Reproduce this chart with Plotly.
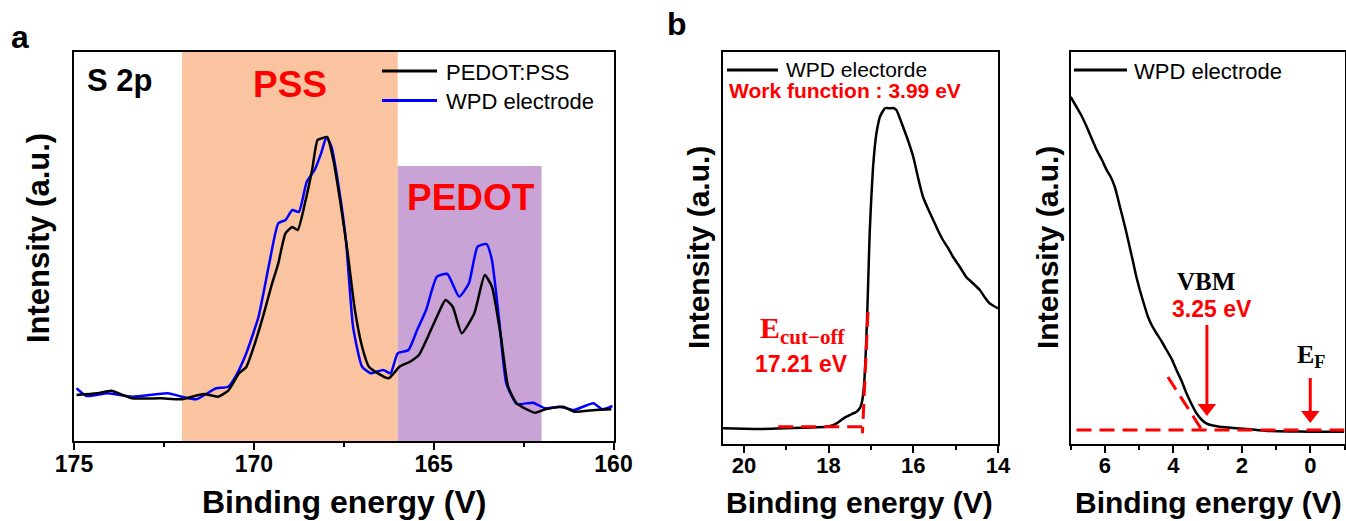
import plotly.graph_objects as go

W, H = 1346, 521

# ---------------- data ----------------
# Panel a : S 2p XPS
be_pedotpss = [174.93, 174.37, 173.97, 173.38, 172.59, 172.0, 171.40, 171.0, 170.71, 170.41,
               170.21, 169.97, 169.72, 169.52, 169.32, 169.12, 168.93, 168.78, 168.58, 168.38,
               168.23, 168.11, 167.96, 167.79, 167.59, 167.39, 167.19, 166.99, 166.80, 166.55,
               166.25, 165.95, 165.66, 165.41, 165.16, 164.91, 164.67, 164.47, 164.22, 163.87,
               163.58, 163.38, 163.13, 162.93, 162.69, 162.19, 161.90, 161.40, 161.10, 160.51,
               160.06]
int_pedotpss = [45, 46.7, 49.3, 41.7, 41.7, 40.7, 46, 43.3, 49.3, 66.7,
                73, 96.7, 126.7, 153, 176.7, 206.7, 213, 210, 236.7, 270,
                300, 301.7, 303, 280, 236.7, 186.7, 130, 93.3, 73.3, 66.7,
                61.7, 73.3, 78.3, 85, 103.3, 123.3, 140, 133.3, 106.7, 126.7,
                165, 153.3, 103.3, 53.3, 36.7, 27.3, 30.7, 33.3, 28.3, 30,
                30.7]

be_wpd_xps = [174.93, 174.65, 174.06, 173.38, 172.39, 172.0, 171.6, 171.05, 170.71, 170.51,
              170.21, 169.87, 169.57, 169.32, 169.12, 168.93, 168.75, 168.53, 168.31, 168.13,
              167.98, 167.84, 167.64, 167.44, 167.24, 166.99, 166.75, 166.40, 166.2, 166.0,
              165.7, 165.46, 165.21, 164.91, 164.62, 164.29, 164.02, 163.78, 163.53, 163.38,
              163.18, 162.98, 162.69, 162.24, 161.90, 161.5, 161.1, 160.56, 160.31, 160.03]
int_wpd_xps = [51.7, 44, 46.7, 43.3, 46.7, 43.3, 40.7, 51.7, 53.3, 63.3,
               86.7, 123.3, 176.7, 216.7, 220, 230, 228, 258, 270, 286.7,
               303, 293, 253, 200, 113, 73.3, 66.7, 70, 66.7, 86.7,
               90, 110, 130, 163.3, 166, 143.3, 156.7, 193.3, 196, 180,
               120, 56.7, 36, 37.3, 31.7, 33.3, 30, 36.7, 30.7, 34]

pss_region = [172.0, 166.0]
pedot_region = [166.0, 162.0]
pedot_region_top = 274

# Panel b (left) : UPS secondary cut-off
be_cutoff = [20.49, 20.0, 19.62, 19.2, 18.84, 18.4, 18.05, 17.92, 17.81, 17.7,
             17.58, 17.45, 17.34, 17.26, 17.22, 17.18, 17.15, 17.12, 17.09, 17.06,
             17.03, 16.99, 16.95, 16.91, 16.87, 16.83, 16.79, 16.73, 16.67, 16.62,
             16.56, 16.48, 16.40, 16.32, 16.24, 16.12, 16.0, 15.88, 15.77, 15.65,
             15.53, 15.41, 15.30, 15.18, 15.06, 14.9, 14.75, 14.6, 14.43, 14.3,
             14.2, 14.1, 14.0]
int_cutoff = [16.7, 16.2, 16, 16.5, 17, 17.5, 18.3, 19.5, 21.7, 25,
              28.3, 31, 33.3, 37, 41.7, 52, 68.3, 95, 128, 170,
              211.7, 248, 278, 298, 311.7, 321, 328, 333, 336.7, 337,
              336.7, 337, 335, 327, 318, 304, 288, 266, 248, 236,
              225, 214, 205, 197, 188, 178, 168, 162, 155, 147,
              141.7, 139, 136.7]
cutoff_base_x = [19.19, 17.03]
cutoff_base_y = [18.3, 18.3]
cutoff_edge_x = [17.07, 17.20]
cutoff_edge_y = [133, 11.7]

# Panel b (right) : UPS valence band
be_vb = [7.0, 6.83, 6.68, 6.53, 6.38, 6.24, 6.1, 5.95, 5.83, 5.71,
         5.64, 5.56, 5.47, 5.37, 5.27, 5.17, 5.08, 4.98, 4.86, 4.74,
         4.62, 4.50, 4.35, 4.20, 4.05, 3.91, 3.76, 3.62, 3.47, 3.33,
         3.18, 3.04, 2.85, 2.65, 2.25, 1.87, 1.5, 1.19, 0.6, 0.03,
         -0.5, -0.99]
int_vb = [348, 338, 329, 318, 306, 295, 286, 275, 268, 258,
          249, 238, 226, 212, 197, 182, 168, 155, 141, 128,
          119, 112, 104, 95, 86, 75, 64, 52, 41, 32,
          25.5, 21.7, 19.5, 18.3, 17, 16, 14.8, 14, 13.5, 13.3,
          13.3, 13.3]
vb_base_x = [6.83, -1.0]
vb_base_y = [15, 15]
vb_edge_x = [4.16, 3.09]
vb_edge_y = [68, 11]
vbm_arrow_x = [3.02, 3.02]
vbm_arrow_y = [120, 37]
ef_arrow_x = [0.0, 0.0]
ef_arrow_y = [67, 30]

# ---------------- helpers ----------------
def PX(x):
    return x / W

def PY(y):
    return 1 - y / H

SANS = "Liberation Sans, Arial, sans-serif"
SERIF = "Liberation Serif, Times New Roman, serif"
RED = "#FF0000"

fig = go.Figure()

# Panel a traces
fig.add_trace(go.Scatter(x=be_wpd_xps, y=int_wpd_xps, mode="lines", name="WPD electrode",
                         line=dict(color="#0000FF", width=2.5, shape="spline", smoothing=0.5),
                         xaxis="x", yaxis="y", showlegend=False))
fig.add_trace(go.Scatter(x=be_pedotpss, y=int_pedotpss, mode="lines", name="PEDOT:PSS",
                         line=dict(color="black", width=2.5, shape="spline", smoothing=0.5),
                         xaxis="x", yaxis="y", showlegend=False))

DASH = dict(color=RED, width=3, dash="15px,8px")

# Panel b left
fig.add_trace(go.Scatter(x=be_cutoff, y=int_cutoff, mode="lines", name="WPD electorde",
                         line=dict(color="black", width=2.5, shape="spline", smoothing=0.5),
                         xaxis="x2", yaxis="y2", showlegend=False))
fig.add_trace(go.Scatter(x=cutoff_base_x, y=cutoff_base_y, mode="lines", line=DASH,
                         xaxis="x2", yaxis="y2", showlegend=False, hoverinfo="skip"))
fig.add_trace(go.Scatter(x=cutoff_edge_x, y=cutoff_edge_y, mode="lines", line=DASH,
                         xaxis="x2", yaxis="y2", showlegend=False, hoverinfo="skip"))

# Panel b right
fig.add_trace(go.Scatter(x=be_vb, y=int_vb, mode="lines", name="WPD electrode",
                         line=dict(color="black", width=2.5, shape="spline", smoothing=0.5),
                         xaxis="x3", yaxis="y3", showlegend=False))
fig.add_trace(go.Scatter(x=vb_base_x, y=vb_base_y, mode="lines", line=DASH,
                         xaxis="x3", yaxis="y3", showlegend=False, hoverinfo="skip"))
fig.add_trace(go.Scatter(x=vb_edge_x, y=vb_edge_y, mode="lines", line=DASH,
                         xaxis="x3", yaxis="y3", showlegend=False, hoverinfo="skip"))
# arrows (shaft + head)
for ax_, ay_ in ((vbm_arrow_x, vbm_arrow_y), (ef_arrow_x, ef_arrow_y)):
    fig.add_trace(go.Scatter(x=ax_, y=ay_, mode="lines", line=dict(color=RED, width=3),
                             xaxis="x3", yaxis="y3", showlegend=False, hoverinfo="skip"))
    fig.add_trace(go.Scatter(x=[ax_[1]], y=[ay_[1]], mode="markers",
                             marker=dict(symbol="triangle-down", size=16, color=RED, line=dict(width=0)),
                             xaxis="x3", yaxis="y3", showlegend=False, hoverinfo="skip"))

# ---------------- axes ----------------
ydom_a = [PY(441), PY(52)]
ydom_b = [PY(444), PY(52)]

def xaxis(domain, rng, dtick, minor_dtick, fs, anchor):
    return dict(domain=domain, range=rng, anchor=anchor, showline=True, linecolor="black",
                linewidth=2, mirror=True, ticks="outside", ticklen=7, tickwidth=2,
                tickcolor="black", dtick=dtick, tick0=0, showgrid=False, zeroline=False,
                automargin=False, ticklabelstandoff=-6,
                tickfont=dict(family=SANS, size=fs, color="black", weight="bold"),
                minor=dict(ticks="outside", ticklen=4, tickwidth=2, tickcolor="black",
                           dtick=minor_dtick, tick0=0, showgrid=False))

def yaxis(domain, rng, anchor):
    return dict(domain=domain, range=rng, anchor=anchor, showline=True, linecolor="black",
                linewidth=2, mirror=True, ticks="", showticklabels=False,
                showgrid=False, zeroline=False, automargin=False)

layout = dict(
    template="none",
    width=W, height=H, margin=dict(l=0, r=0, t=0, b=0, pad=0, autoexpand=False),
    paper_bgcolor="white", plot_bgcolor="white", showlegend=False,
    xaxis=xaxis([PX(74), PX(613.5)], [175, 160], 5, 2.5, 23, "y"),
    yaxis=yaxis(ydom_a, [-1, 388], "x"),
    xaxis2=xaxis([PX(722.7), PX(998)], [20.5, 14], 2, 1, 22, "y2"),
    yaxis2=yaxis(ydom_b, [1, 393], "x2"),
    xaxis3=xaxis([PX(1070.7), PX(1344.5)], [7, -1], 2, 1, 22, "y3"),
    yaxis3=yaxis(ydom_b, [1, 393], "x3"),
)
fig.update_layout(**layout)

# ---------------- shapes ----------------
shapes = [
    dict(type="rect", xref="x", yref="y domain", x0=pss_region[0], x1=pss_region[1], y0=0, y1=1,
         fillcolor="#FAC4A0", line=dict(width=0), layer="below"),
    dict(type="rect", xref="x", yref="y", x0=pedot_region[0], x1=pedot_region[1], y0=-1,
         y1=pedot_region_top, fillcolor="#C9A3D5", line=dict(width=0), layer="below"),
    # legend samples
    dict(type="line", xref="paper", yref="paper", x0=PX(382), x1=PX(437), y0=PY(71), y1=PY(71),
         line=dict(color="black", width=3)),
    dict(type="line", xref="paper", yref="paper", x0=PX(382), x1=PX(437), y0=PY(100.5), y1=PY(100.5),
         line=dict(color="#0000FF", width=3)),
    dict(type="line", xref="paper", yref="paper", x0=PX(727), x1=PX(778), y0=PY(70), y1=PY(70),
         line=dict(color="black", width=3)),
    dict(type="line", xref="paper", yref="paper", x0=PX(1074), x1=PX(1127), y0=PY(70), y1=PY(70),
         line=dict(color="black", width=3)),
]
fig.update_layout(shapes=shapes)

# ---------------- annotations ----------------
def txt(x, y, text, size, color="black", family=SANS, xanchor="center", yanchor="middle",
        angle=0, bold=False):
    return dict(x=PX(x), y=PY(y), xref="paper", yref="paper", text=text, showarrow=False,
                xanchor=xanchor, yanchor=yanchor, textangle=angle,
                font=dict(family=family, size=size, color=color, weight="bold" if bold else "normal"))

ann = [
    # panel letters
    txt(20, 37, "a", 32, bold=True),
    txt(677, 24, "b", 32, bold=True),
    # axis titles
    txt(344, 502, "Binding energy (V)", 32, bold=True),
    txt(860, 502, "Binding energy (V)", 30, bold=True),
    txt(1208, 502, "Binding energy (V)", 30, bold=True),
    txt(38, 238, "Intensity (a.u.)", 31, bold=True, angle=-90),
    txt(698, 248, "Intensity (a.u.)", 30, bold=True, angle=-90),
    txt(1047, 248, "Intensity (a.u.)", 30, bold=True, angle=-90),
    # panel a labels
    txt(85, 81, "S 2p", 31, bold=True, xanchor="left"),
    txt(290, 84, "PSS", 37, color=RED, bold=True),
    txt(471, 197, "PEDOT", 37, color=RED, bold=True),
    # legends
    txt(444, 72, "PEDOT:PSS", 22, xanchor="left"),
    txt(444, 101, "WPD electrode", 22, xanchor="left"),
    txt(784, 69, "WPD electorde", 21, xanchor="left"),
    txt(1132, 71, "WPD electrode", 22, xanchor="left"),
    # panel b left
    txt(727, 91, "Work function : 3.99 eV", 21, color=RED, bold=True, xanchor="left"),
    txt(802, 330, "<b>E<sub>cut−off</sub></b>", 30, color=RED, family=SERIF, bold=True),
    txt(801, 364, "17.21 eV", 23, color=RED, bold=True),
    # panel b right
    txt(1206, 281, "VBM", 25, family=SERIF, bold=True),
    txt(1212, 309, "3.25 eV", 23, color=RED, bold=True),
    txt(1311, 356, "<b>E<sub>F</sub></b>", 26, family=SERIF, bold=True),
]
fig.update_layout(annotations=ann)

fig.write_html("out.html")
